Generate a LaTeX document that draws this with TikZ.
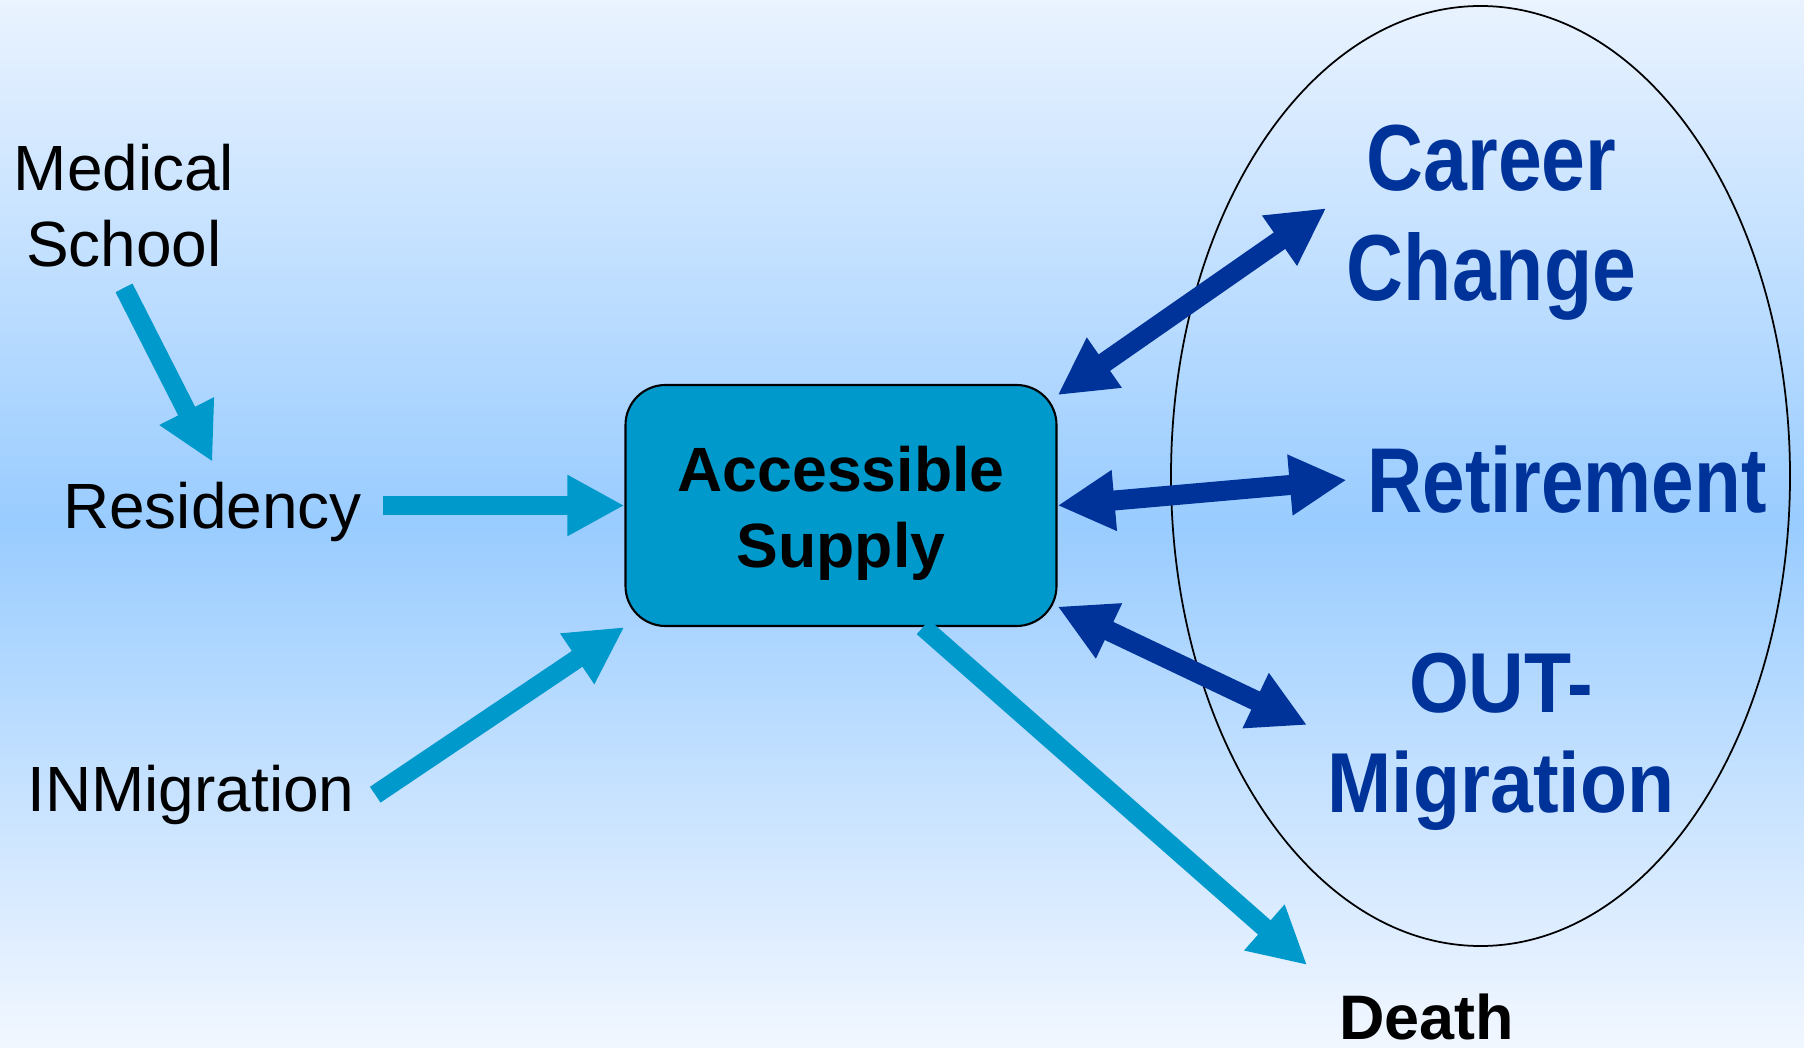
\documentclass[tikz,border=0pt]{standalone}
\usepackage{fontspec}
\setmainfont{Liberation Sans}
\newfontfamily\careerfont[FakeStretch=0.84]{Liberation Sans}
\newfontfamily\retirefont[FakeStretch=0.83]{Liberation Sans}
\newfontfamily\migfont[FakeStretch=0.905]{Liberation Sans}
\usetikzlibrary{arrows.meta}
\definecolor{supplyblue}{HTML}{0099CC}
\definecolor{outblue}{HTML}{003399}
\definecolor{bgtop}{HTML}{EAF3FF}
\definecolor{bgmid}{HTML}{99CCFF}
\definecolor{bgbottom}{HTML}{F2F7FF}
\begin{document}
\begin{tikzpicture}[textnodeA/.style={inner sep=0.2cm, align=center, font=\fontsize{18.2}{21.6}\selectfont},
textnodeB/.style={inner sep=0.2cm, align=center, text=outblue},
supplynode/.style={rectangle, rounded corners=0.4cm, draw=black, line width=0.6pt, fill=supplyblue, minimum width=4.31cm, minimum height=2.41cm, align=center, font=\bfseries\fontsize{17.8}{21.7}\selectfont},
lightarrow/.style={draw=supplyblue, line width=0.19cm, -{Triangle[width=0.57cm, length=0.57cm]}},
darkarrow/.style={draw=outblue, line width=0.2cm, {Triangle[width=0.57cm, length=0.57cm]}-{Triangle[width=0.57cm, length=0.57cm]}}]

\useasboundingbox (0,0) rectangle (18.04,10.47);
\shade[top color=bgtop, bottom color=bgbottom, middle color=bgmid] (0,0) rectangle (18.04,10.47);

\draw[line width=0.5pt] (14.805, 5.71) ellipse [x radius=3.095, y radius=4.70];

\node[textnodeA](medschool) at (1.24, 8.413){Medical\\School};
\node[textnodeA](residency) at (2.125, 5.346){Residency};
\node[textnodeA](inmigration) at (1.91, 2.523){INMigration};

\node[supplynode](supply) at (8.41, 5.415){\rule{0pt}{0.61cm}Accessible\\Supply};

\node[textnodeB, font=\careerfont\bfseries\fontsize{26.7}{31.3}\selectfont](career) at (14.915, 8.244){Career\\Change};
\node[textnodeB, font=\retirefont\bfseries\fontsize{26.2}{31}\selectfont](retirement) at (15.67, 5.67){Retirement};
\node[textnodeB, font=\migfont\bfseries\fontsize{24.2}{28.5}\selectfont](outmigration) at (15.01, 3.05){OUT-\\Migration};
\node[inner sep=0.05cm, font=\bfseries\fontsize{17.9}{21.5}\selectfont](death) at (14.265, 0.30){Death};

\draw[lightarrow](medschool.south) -- (residency.north);
\draw[lightarrow](residency.east |- supply.west) -- (supply.west);
\draw[lightarrow](inmigration.east) -- (supply.south west);
\draw[lightarrow, shorten >=0.35cm](supply.-56) -- (death.north west);

\draw[darkarrow](supply.27) -- (career.175);
\draw[darkarrow](supply.east) -- (retirement.west);
\draw[darkarrow](supply.-25) -- (outmigration.175);

\end{tikzpicture}
\end{document}
